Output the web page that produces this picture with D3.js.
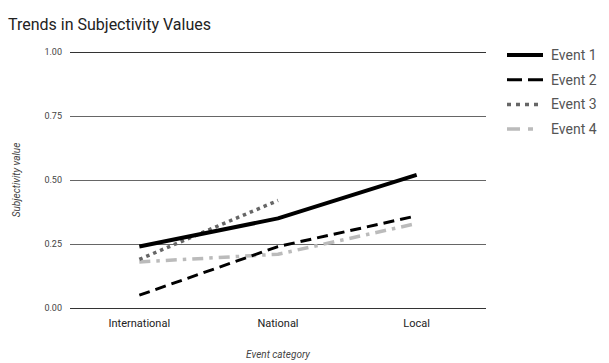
<!DOCTYPE html>
<html>
<head>
<meta charset="utf-8">
<style>
  body { margin: 0; background: #fff; }
  svg { font-family: Roboto, "Noto Sans", sans-serif; }
</style>
</head>
<body>
<svg width="609" height="363"></svg>
<script src="https://d3js.org/d3.v7.min.js"></script>
<script>
  const categories = ["International", "National", "Local"];
  const yTicks = [0, 0.25, 0.5, 0.75, 1];
  const seriesNames = ["Event 1", "Event 2", "Event 3", "Event 4"];
  const event1 = [0.24, 0.35, 0.52];
  const event2 = [0.05, 0.24, 0.36];
  const event3 = [0.19, 0.42, null];
  const event4 = [0.18, 0.21, 0.33];

  const styles = [
    { color: "#000", width: 4, dash: null, legendDash: null },
    { color: "#000", width: 3, dash: "11,6", legendDash: "15,6" },
    { color: "#666", width: 3.5, dash: "3.5,4", legendDash: "4,5" },
    { color: "#bbb", width: 3.5, dash: "11,6,3.5,6", legendDash: "13,8,5,10" }
  ];

  const series = [event1, event2, event3, event4].map((vals, i) => ({
    name: seriesNames[i], vals, style: styles[i]
  }));

  const svg = d3.select("svg");
  const plotLeft = 70, plotRight = 486, plotTop = 52, plotBottom = 308;

  const x = d3.scalePoint().domain(categories).range([plotLeft, plotRight]).padding(0.5);
  const y = d3.scaleLinear().domain([0, 1]).range([plotBottom, plotTop]);

  svg.append("text")
    .attr("x", 8).attr("y", 30)
    .attr("font-size", 16).attr("fill", "#222")
    .text("Trends in Subjectivity Values");

  // gridlines
  svg.append("g").selectAll("line").data(yTicks).join("line")
    .attr("x1", plotLeft).attr("x2", plotRight)
    .attr("y1", d => Math.round(y(d)) + 0.5).attr("y2", d => Math.round(y(d)) + 0.5)
    .attr("stroke", d => (d === 0 || d === 1) ? "#333" : "#666")
    .attr("stroke-width", 1);

  svg.append("g").selectAll("text").data(yTicks).join("text")
    .attr("x", plotLeft - 8).attr("y", d => y(d) + 3)
    .attr("text-anchor", "end").attr("font-size", 9).attr("fill", "#444")
    .text(d => d3.format(".2f")(d));

  svg.append("g").selectAll("text").data(categories).join("text")
    .attr("x", d => x(d)).attr("y", 327)
    .attr("text-anchor", "middle").attr("font-size", 11).attr("fill", "#222")
    .text(d => d);

  svg.append("text")
    .attr("x", (plotLeft + plotRight) / 2).attr("y", 358)
    .attr("text-anchor", "middle").attr("font-size", 10)
    .attr("font-style", "italic").attr("fill", "#444")
    .text("Event category");

  svg.append("text")
    .attr("transform", `translate(20,${(plotTop + plotBottom) / 2}) rotate(-90)`)
    .attr("text-anchor", "middle").attr("font-size", 10)
    .attr("font-style", "italic").attr("fill", "#444")
    .text("Subjectivity value");

  const line = d3.line()
    .defined(d => d.v != null)
    .x(d => x(d.c)).y(d => y(d.v));

  svg.append("g").selectAll("path").data(series.slice().reverse()).join("path")
    .attr("d", s => line(s.vals.map((v, i) => ({ c: categories[i], v }))))
    .attr("fill", "none")
    .attr("stroke", s => s.style.color)
    .attr("stroke-width", s => s.style.width)
    .attr("stroke-linejoin", "round")
    .attr("stroke-dasharray", s => s.style.dash);

  // legend
  const legend = svg.append("g").selectAll("g").data(series).join("g")
    .attr("transform", (s, i) => `translate(507,${55 + i * 24.7})`);
  legend.append("line")
    .attr("x1", 0).attr("x2", 36).attr("y1", 0).attr("y2", 0)
    .attr("stroke", s => s.style.color)
    .attr("stroke-width", s => s.style.width)
    .attr("stroke-dasharray", s => s.style.legendDash);
  legend.append("text")
    .attr("x", 44).attr("y", 5)
    .attr("font-size", 14).attr("fill", "#555")
    .text(s => s.name);
</script>
</body>
</html>
